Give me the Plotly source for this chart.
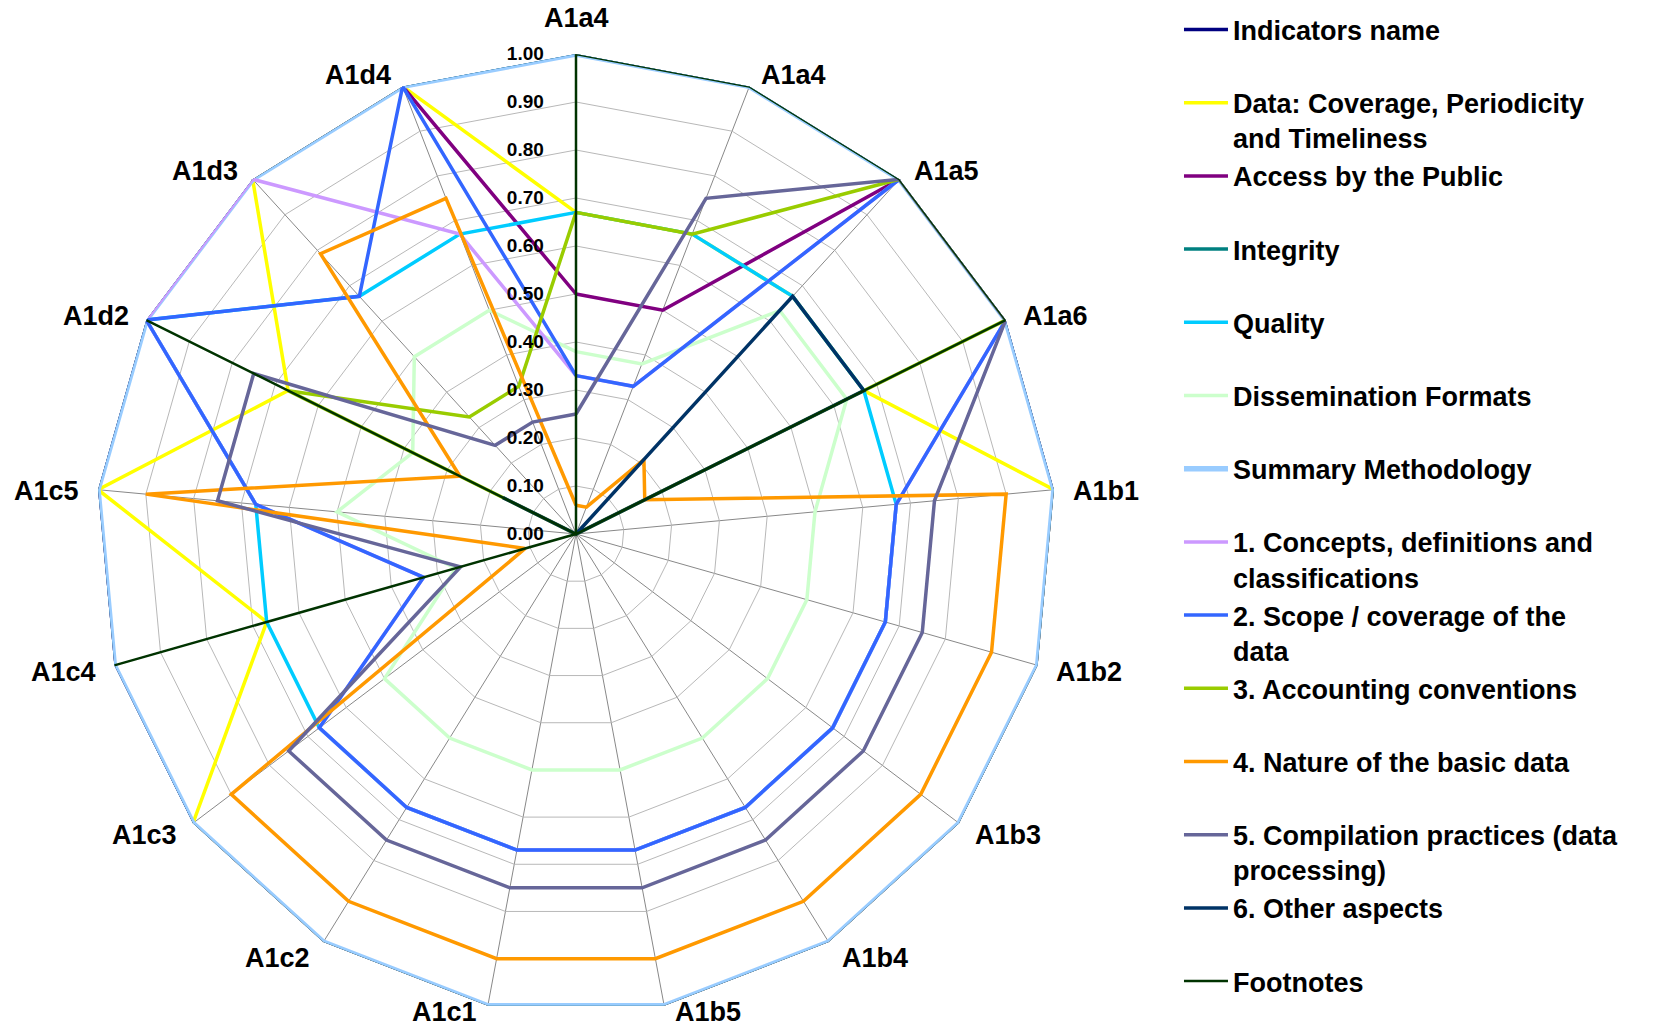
import math
import plotly.graph_objects as go

# Indicator axes, clockwise from the top (the first label appears twice)
categories = ["A1a4", "A1a4", "A1a5", "A1a6", "A1b1", "A1b2", "A1b3", "A1b4", "A1b5",
              "A1c1", "A1c2", "A1c3", "A1c4", "A1c5", "A1d2", "A1d3", "A1d4"]

radial_ticks = [0.00, 0.10, 0.20, 0.30, 0.40, 0.50, 0.60, 0.70, 0.80, 0.90, 1.00]

indicators_name = [1.00, 1.00, 1.00, 1.00, 1.00, 1.00, 1.00, 1.00, 1.00,
                   1.00, 1.00, 1.00, 1.00, 1.00, 1.00, 1.00, 1.00]
data_coverage = [0.67, 0.67, 0.67, 0.67, 1.00, 1.00, 1.00, 1.00, 1.00,
                 1.00, 1.00, 1.00, 0.67, 1.00, 0.67, 1.00, 1.00]
access_public = [0.50, 0.50, 1.00, 1.00, 1.00, 1.00, 1.00, 1.00, 1.00,
                 1.00, 1.00, 1.00, 1.00, 1.00, 1.00, 1.00, 1.00]
integrity = [1.00, 1.00, 1.00, 1.00, 1.00, 1.00, 1.00, 1.00, 1.00,
             1.00, 1.00, 1.00, 1.00, 1.00, 1.00, 1.00, 1.00]
quality = [0.67, 0.67, 0.67, 0.67, 0.67, 0.67, 0.67, 0.67, 0.67,
           0.67, 0.67, 0.67, 0.67, 0.67, 1.00, 0.67, 0.67]
dissemination = [0.38, 0.38, 0.63, 0.63, 0.50, 0.50, 0.50, 0.50, 0.50,
                 0.50, 0.50, 0.50, 0.26, 0.50, 0.38, 0.50, 0.50]
summary_methodology = [1.00, 1.00, 1.00, 1.00, 1.00, 1.00, 1.00, 1.00, 1.00,
                       1.00, 1.00, 1.00, 1.00, 1.00, 1.00, 1.00, 1.00]
concepts = [0.33, 0.33, 1.00, 1.00, 0.67, 0.67, 0.67, 0.67, 0.67,
            0.67, 0.67, 0.67, 0.33, 0.67, 1.00, 1.00, 0.67]
scope = [0.33, 0.33, 1.00, 1.00, 0.67, 0.67, 0.67, 0.67, 0.67,
         0.67, 0.67, 0.67, 0.33, 0.67, 1.00, 0.67, 1.00]
accounting = [0.67, 0.67, 1.00, 1.00, 0.00, 0.00, 0.00, 0.00, 0.00,
              0.00, 0.00, 0.00, 0.00, 0.00, 0.67, 0.33, 0.33]
basic_data = [0.06, 0.06, 0.21, 0.16, 0.90, 0.90, 0.90, 0.90, 0.90,
              0.90, 0.90, 0.90, 0.11, 0.90, 0.27, 0.79, 0.75]
compilation = [0.25, 0.75, 1.00, 1.00, 0.75, 0.75, 0.75, 0.75, 0.75,
               0.75, 0.75, 0.75, 0.25, 0.75, 0.75, 0.25, 0.25]
other_aspects = [0.00, 0.00, 0.67, 0.67, 0.00, 0.00, 0.00, 0.00, 0.00,
                 0.00, 0.00, 0.00, 0.00, 0.00, 0.17, 0.00, 0.00]
footnotes = [1.00, 1.00, 1.00, 1.00, 0.00, 0.00, 0.00, 0.00, 0.00,
             0.00, 0.00, 0.00, 1.00, 0.00, 1.00, 0.00, 0.00]

# Legend text, colour, line width; single-line names get a blank second line
# so every entry occupies the same height in the legend
series = [
    ("Indicators name<br>\u00a0", indicators_name, "#000080", 3.5),
    ("Data: Coverage, Periodicity<br>and Timeliness", data_coverage, "#FFFF00", 3.5),
    ("Access by the Public<br>\u00a0", access_public, "#800080", 3.5),
    ("Integrity<br>\u00a0", integrity, "#008080", 3.5),
    ("Quality<br>\u00a0", quality, "#00CCFF", 3.5),
    ("Dissemination Formats<br>\u00a0", dissemination, "#CCFFCC", 3.5),
    ("Summary Methodology<br>\u00a0", summary_methodology, "#99CCFF", 5.5),
    ("1. Concepts, definitions and<br>classifications", concepts, "#CC99FF", 3.5),
    ("2. Scope / coverage of the<br>data", scope, "#3366FF", 3.5),
    ("3. Accounting conventions<br>\u00a0", accounting, "#99CC00", 3.5),
    ("4. Nature of the basic data<br>\u00a0", basic_data, "#FF9900", 3.5),
    ("5. Compilation practices (data<br>processing)", compilation, "#666699", 3.5),
    ("6. Other aspects<br>\u00a0", other_aspects, "#003366", 3.5),
    ("Footnotes", footnotes, "#003300", 2.5),
]

# Distinct category keys for repeated labels (zero-width spaces keep the text identical)
keys = []
seen = {}
for lab in categories:
    n = seen.get(lab, 0)
    keys.append(lab + "\u200b" * n)
    seen[lab] = n + 1

fig = go.Figure()
for name, vals, color, width in series:
    fig.add_trace(go.Scatterpolar(
        r=vals + vals[:1],
        theta=keys + keys[:1],
        mode="lines",
        name=name,
        line=dict(color=color, width=width),
        hoverinfo="skip",
    ))

W, H = 1665, 1030
cx, cy, R = 576, 534, 480  # polar centre and outer radius, in pixels

# Category labels set beside each spoke tip: left/right aligned on the sides,
# centred above the top spoke
label_font = dict(size=27, weight="bold", color="black")
annotations = []
n_cat = len(categories)
for i, lab in enumerate(categories):
    theta = math.radians(i * 360.0 / n_cat)
    s, c = math.sin(theta), math.cos(theta)
    vx, vy = cx + R * s, cy - R * c
    if abs(s) < 0.05:
        x, xanchor, y = vx, "center", vy - 36
    else:
        gap = 17 - 8 * c * c
        x = vx + gap if s > 0 else vx - gap
        xanchor = "left" if s > 0 else "right"
        y = min(vy - 15 * c + 3, H - 18)
    annotations.append(dict(
        text=lab, x=x / W, y=1 - y / H, xref="paper", yref="paper",
        xanchor=xanchor, yanchor="middle", showarrow=False, font=label_font,
    ))

fig.update_layout(
    width=W, height=H,
    margin=dict(l=0, r=0, t=0, b=0),
    paper_bgcolor="white",
    font=dict(family="Liberation Sans, Arial, sans-serif", color="black"),
    polar=dict(
        domain=dict(x=[(cx - R) / W, (cx + R) / W],
                    y=[(H - cy - R) / H, (H - cy + R) / H]),
        bgcolor="white",
        gridshape="linear",
        angularaxis=dict(
            type="category",
            rotation=90,
            direction="clockwise",
            showline=False,
            showticklabels=False,
            gridcolor="#888888",
            gridwidth=1,
            ticks="",
        ),
        radialaxis=dict(
            range=[0, 1],
            tickmode="array",
            tickvals=radial_ticks,
            tickformat=".2f",
            angle=90,
            side="counterclockwise",
            tickangle=90,
            showline=False,
            gridcolor="#B8B8B8",
            gridwidth=1,
            ticks="outside",
            ticklen=25,
            tickcolor="rgba(0,0,0,0)",
            tickfont=dict(size=19, weight="bold", color="black"),
        ),
    ),
    annotations=annotations,
    legend=dict(
        x=0.7081, y=0.9947, xanchor="left", yanchor="top",
        font=dict(size=27, weight="bold", color="black"),
        valign="top",
        tracegroupgap=0,
        itemwidth=44,
        bgcolor="rgba(0,0,0,0)",
    ),
    showlegend=True,
)

fig.write_html("out.html")
